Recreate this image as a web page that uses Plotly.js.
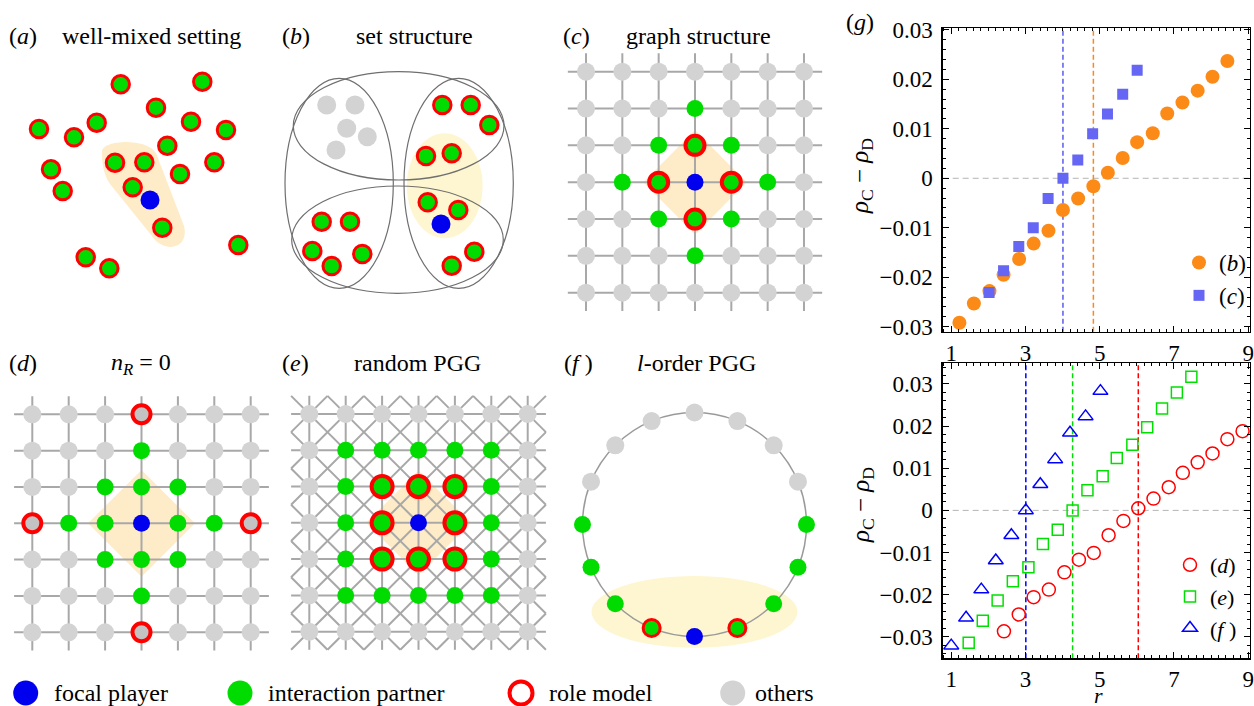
<!DOCTYPE html>
<html><head><meta charset="utf-8">
<script src="https://cdn.plot.ly/plotly-3.0.1.min.js"></script>
<style>html,body{margin:0;padding:0;background:#fff}#chart{width:1254px;height:706px}</style>
</head><body><div id="chart"></div>
<script>
// ================= DATA =================
// panel (g) top: set structure (b) and graph structure (c)
const rB = [1.22,1.61,2.03,2.41,2.83,3.22,3.62,4.01,4.42,4.83,5.22,5.62,6.01,6.43,6.82,7.23,7.64,8.04,8.44];
const dB = [-0.0292,-0.0253,-0.0228,-0.0195,-0.0163,-0.0132,-0.0106,-0.0064,-0.0041,-0.0016,0.0011,0.0041,0.0073,0.0091,0.0131,0.0153,0.0177,0.0205,0.0237];
const rC = [2.02,2.41,2.82,3.21,3.61,4.01,4.41,4.81,5.21,5.62,6.01];
const dC = [-0.0231,-0.0187,-0.0138,-0.0100,-0.0041,0.0000,0.0037,0.0090,0.0130,0.0170,0.0218];
// panel (g) bottom: n_R=0 (d), random PGG (e), l-order PGG (f)
const rD = [2.42,2.82,3.22,3.63,4.05,4.44,4.84,5.24,5.64,6.04,6.45,6.86,7.24,7.64,8.04,8.44,8.85];
const dD = [-0.0287,-0.0247,-0.0206,-0.0188,-0.0147,-0.0117,-0.0101,-0.0059,-0.0025,0.0005,0.0028,0.0055,0.0089,0.0114,0.0135,0.0169,0.0188];
const rE = [1.47,1.85,2.25,2.66,3.08,3.47,3.87,4.27,4.67,5.08,5.46,5.88,6.28,6.68,7.08,7.47];
const dE = [-0.0314,-0.0262,-0.0214,-0.0168,-0.0135,-0.0080,-0.0046,0.0000,0.0048,0.0081,0.0124,0.0156,0.0197,0.0242,0.0280,0.0317];
const rF = [1.00,1.40,1.81,2.20,2.62,3.01,3.40,3.80,4.20,4.62,5.02];
const dF = [-0.0321,-0.0255,-0.0188,-0.0119,-0.0059,0.0000,0.0062,0.0121,0.0184,0.0223,0.0283];
// critical r (dashed lines)
const critB = 4.83, critC = 4.01, critD = 6.04, critE = 4.27, critF = 3.01;
// tick labels
const xTickVals = [1,3,5,7,9];
const xTickText = ['1','3','5','7','9'];
const yTickVals = [-0.03,-0.02,-0.01,0,0.01,0.02,0.03];
const yTickText = ['\u22120.03','\u22120.02','\u22120.01','0','0.01','0.02','0.03'];
const seriesNames = ['(<i>b</i>)','(<i>c</i>)','(<i>d</i>)','(<i>e</i>)','(<i>f</i> )'];

// panel (a) well-mixed: node positions
const aRoleX = [120.7,202.3,156,191,96.7,39,74,226,167.3,115,144.3,214.3,51,180,132.7,62.7,162.3,238.3,85.7,109.3];
const aRoleY = [84.3,81.7,107.7,121.7,122.7,129,137.3,130,145.7,162.7,162.3,162.3,169.3,174,187.3,191,227.7,245,257.3,268.3];
const aFocalX = [150], aFocalY = [200];
// panel (b) set structure
const bOtherX = [326.7,355,346.7,367.3,336];
const bOtherY = [105,105,128.3,136.7,150];
const bRoleX = [442.3,470.7,489.3,426,451.7,427.7,458.3,321.7,350,312.3,331.7,362.3,451.7,474.3];
const bRoleY = [105,105,125,156,153.3,202.3,210,221.7,221.7,251,266,254,265.7,251.7];
const bFocalX = [441], bFocalY = [224];
// lattices: O other, P partner, R partner+role model, X other+role model, F focal
const gridC = ["OOOOOOO","OOOPOOO","OOPRPOO","OPRFRPO","OOPRPOO","OOOPOOO","OOOOOOO"];
const gridD = ["OOOXOOO","OOOPOOO","OOPPPOO","XPPFPPX","OOPPPOO","OOOPOOO","OOOXOOO"];
const gridE = ["OOOOOOO","OPPPPPO","OPRRRPO","OPRFRPO","OPRRRPO","OPPPPPO","OOOOOOO"];
// ring (f): 16 nodes starting at bottom, counter-clockwise
const ringRoles = "FRPPPOOOOOOOPPPR";
// figure legend
const legendLabels = ['focal player','interaction partner','role model','others'];
const legendRoles = ['F','P','R','O'];

// ================= STYLE / LAYOUT =================
const W = 1254, H = 706;
const FONT = 'Liberation Serif, Times New Roman, serif';
const COL = {green:'#00dc00', red:'#ff0000', blue:'#0000ee', gray:'#d3d3d3', ringGray:'#c3c3c3',
  line:'#a8a8a8', peach:'rgb(254,236,201)', cream:'rgb(254,246,208)'};

const traces = [];
const layout = {width:W, height:H, margin:{l:0,r:0,t:0,b:0}, paper_bgcolor:'#fff', plot_bgcolor:'rgba(0,0,0,0)',
  showlegend:true, shapes:[], annotations:[], font:{family:FONT, color:'#000'}};

function addAxes(id, pxL, pxR, pxT, pxB, xr, yr) {
  const n = id === 1 ? '' : String(id);
  layout['xaxis'+n] = {domain:[pxL/W, pxR/W], range:xr, visible:false, fixedrange:true, anchor:'y'+n};
  layout['yaxis'+n] = {domain:[1-pxB/H, 1-pxT/H], range:yr, visible:false, fixedrange:true, anchor:'x'+n};
  return {x:'x'+n, y:'y'+n};
}
function styleFor(role, s) {
  if (role === 'F') return {size:s.F, color:COL.blue, line:{width:0}};
  if (role === 'P') return {size:s.P, color:COL.green, line:{width:0}};
  if (role === 'R') return {size:s.R, color:COL.green, line:{width:s.RL, color:COL.red}};
  if (role === 'X') return {size:s.X, color:COL.ringGray, line:{width:s.RL, color:COL.red}};
  return {size:s.O, color:COL.gray, line:{width:0}};
}
function nodeTrace(ax, xs, ys, marker) {
  traces.push({type:'scatter', mode:'markers', x:xs, y:ys, xaxis:ax.x, yaxis:ax.y, showlegend:false,
    hoverinfo:'skip', cliponaxis:false, marker:marker});
}
function lattice(ax, rows, s, diag) {
  const n = rows.length, lx = [], ly = [];
  for (let i = 1; i <= n; i++) {
    lx.push(0.5, n+0.5, null); ly.push(i, i, null);
    lx.push(i, i, null); ly.push(0.5, n+0.5, null);
  }
  if (diag) {
    for (let k = -(n-1); k <= n-1; k++) {
      const xa = Math.max(0.5, 0.5-k), xb = Math.min(n+0.5, n+0.5-k);
      lx.push(xa, xb, null); ly.push(xa+k, xb+k, null);
    }
    for (let sm = 2; sm <= 2*n; sm++) {
      const xa = Math.max(0.5, sm-(n+0.5)), xb = Math.min(n+0.5, sm-0.5);
      lx.push(xa, xb, null); ly.push(sm-xa, sm-xb, null);
    }
  }
  traces.push({type:'scatter', mode:'lines', x:lx, y:ly, xaxis:ax.x, yaxis:ax.y, showlegend:false,
    hoverinfo:'skip', line:{color:COL.line, width:2}});
  const groups = {};
  rows.forEach((row, r) => row.split('').forEach((ch, c) => {
    groups[ch] = groups[ch] || {x:[], y:[]};
    groups[ch].x.push(c+1); groups[ch].y.push(r+1);
  }));
  ['O','X','P','R','F'].forEach(k => { if (groups[k]) nodeTrace(ax, groups[k].x, groups[k].y, styleFor(k, s)); });
}
function latticeAxes(id, x0, sx, y0, sy) {
  return addAxes(id, x0-0.75*sx, x0+6.75*sx, y0-0.75*sy, y0+6.75*sy, [0.25,7.75], [7.75,0.25]);
}
function diamond(ax, cx, cy, h, color) {
  layout.shapes.push({type:'path', xref:ax.x, yref:ax.y, layer:'below', fillcolor:color, line:{width:0},
    path:`M ${cx},${cy-h} L ${cx+h},${cy} L ${cx},${cy+h} L ${cx-h},${cy} Z`});
}

// ---- panel (a)
const axA = addAxes(1, 0, 280, 50, 300, [0,280], [300,50]);
layout.shapes.push({type:'path', xref:axA.x, yref:axA.y, layer:'below', fillcolor:COL.peach, line:{width:0},
  path:'M 102,152 C 101,140 146,137 156,153 L 184,226 C 189,246 170,253 156,241 L 110,184 C 103,174 102,162 102,152 Z'});
nodeTrace(axA, aRoleX, aRoleY, styleFor('R', {R:17.5, RL:3}));
nodeTrace(axA, aFocalX, aFocalY, styleFor('F', {F:19}));

// ---- panel (b)
const axB = addAxes(2, 280, 560, 50, 305, [280,560], [305,50]);
layout.shapes.push({type:'circle', xref:axB.x, yref:axB.y, layer:'below', fillcolor:COL.cream, line:{width:0},
  x0:406.7, x1:482.7, y0:133.3, y1:238.3});
[[285,393.3,78.3,288.3],[404,513.3,78.3,288.3],[293.3,504,71.7,180],[291.7,503.3,186,293.3]].forEach(e => {
  layout.shapes.push({type:'circle', xref:axB.x, yref:axB.y, layer:'below', line:{width:1.2, color:'#6f6f6f'},
    x0:e[0], x1:e[1], y0:e[2], y1:e[3]});
});
nodeTrace(axB, bOtherX, bOtherY, styleFor('O', {O:19}));
nodeTrace(axB, bRoleX, bRoleY, styleFor('R', {R:17.5, RL:3}));
nodeTrace(axB, bFocalX, bFocalY, styleFor('F', {F:19}));

// ---- panel (c)
const axC = latticeAxes(3, 586, 36.33, 71.7, 36.83);
diamond(axC, 4, 4, 1.42, COL.peach);
lattice(axC, gridC, {O:18, P:17, R:19, RL:4, F:17}, false);

// ---- panel (d)
const axD = latticeAxes(4, 32.3, 36.4, 414.3, 36.33);
diamond(axD, 4, 4, 1.47, COL.peach);
lattice(axD, gridD, {O:18, P:17, X:18, RL:4, F:17}, false);

// ---- panel (e)
const axE = latticeAxes(5, 309.3, 36.4, 414, 36.28);
diamond(axE, 4, 4, 1.44, COL.peach);
lattice(axE, gridE, {O:18, P:17, R:21, RL:4, F:17}, true);

// ---- panel (f)
const fcx = 694.5, fcy = 524.5, fR = 112;
const axF = addAxes(6, fcx-1.3*fR, fcx+1.3*fR, fcy-1.3*fR, fcy+1.3*fR, [-1.3,1.3], [-1.3,1.3]);
layout.shapes.push({type:'circle', xref:axF.x, yref:axF.y, layer:'below', fillcolor:COL.cream, line:{width:0},
  x0:-0.92, x1:0.92, y0:-1.10, y1:-0.46});
layout.shapes.push({type:'circle', xref:axF.x, yref:axF.y, layer:'below', line:{width:1.5, color:'#9a9a9a'},
  x0:-1, x1:1, y0:-1, y1:1});
{
  const g = {};
  ringRoles.split('').forEach((ch, k) => {
    const th = (-90 + 360*k/ringRoles.length) * Math.PI/180;
    g[ch] = g[ch] || {x:[], y:[]};
    g[ch].x.push(Math.cos(th)); g[ch].y.push(Math.sin(th));
  });
  const s = {O:18, P:17, R:17, RL:3, F:17};
  ['O','P','R','F'].forEach(k => { if (g[k]) nodeTrace(axF, g[k].x, g[k].y, styleFor(k, s)); });
}

// ---- figure legend row
const axL = addAxes(9, 0, 840, 670, 706, [0,840], [706,670]);
const legMarkX = [25.7, 240, 521, 732.7];
const legTextX = [52, 266, 547, 752.5];
const legStyle = {F:{size:25, color:COL.blue, line:{width:0}}, P:{size:25, color:COL.green, line:{width:0}},
  R:{size:23, color:'rgba(0,0,0,0)', line:{width:4, color:COL.red}}, O:{size:25, color:COL.gray, line:{width:0}}};
legendRoles.forEach((r, i) => {
  nodeTrace(axL, [legMarkX[i]], [693], legStyle[r]);
  layout.annotations.push({xref:axL.x, yref:axL.y, x:legTextX[i], y:693, xanchor:'left', yanchor:'middle',
    text:legendLabels[i], showarrow:false, font:{family:FONT, size:24, color:'#000'}});
});

// ---- panel titles
[['(<i>a</i>)',23,36],['well-mixed setting',151.5,36],['(<i>b</i>)',296.3,36],['set structure',414.7,36],
 ['(<i>c</i>)',576,36],['graph structure',698.7,36],['(<i>d</i>)',22.7,363],['<i>n</i><sub><i>R</i></sub> = 0',140.8,364],
 ['(<i>e</i>)',295.8,363],['random PGG',417.5,363],['(<i>f</i> )',578.7,363],['<i>l</i>-order PGG',696.7,363],
 ['(<i>g</i>)',860,22]].forEach(t => {
  layout.annotations.push({xref:'paper', yref:'paper', x:t[1]/W, y:1-t[2]/H, xanchor:'center', yanchor:'middle',
    text:t[0], showarrow:false, font:{family:FONT, size:24, color:'#000'}});
});

// ---- panel (g) axes
const GL = 942.7, GR = 1250;
function gX(anchor) {
  return {domain:[GL/W, GR/W], range:[0.77,9.05], anchor:anchor, showline:true, mirror:'ticks', linecolor:'#000',
    linewidth:1.3, ticks:'inside', ticklen:6, tickwidth:1, tickcolor:'#000', tickmode:'array', tickvals:xTickVals,
    ticktext:xTickText, tickfont:{family:FONT, size:23, color:'#000'},
    minor:{tickmode:'linear', tick0:1, dtick:0.2, ticks:'inside', ticklen:3, tickwidth:1, tickcolor:'#000'},
    showgrid:false, zeroline:false, fixedrange:true};
}
function gY(anchor, pxT, pxB, yr) {
  return {domain:[1-pxB/H, 1-pxT/H], range:yr, anchor:anchor, showline:true, mirror:'ticks', linecolor:'#000',
    linewidth:1.3, ticks:'inside', ticklen:6, tickwidth:1, tickcolor:'#000', tickmode:'array', tickvals:yTickVals,
    ticktext:yTickText, tickfont:{family:FONT, size:23, color:'#000'}, ticklabelstandoff:4,
    minor:{tickmode:'linear', tick0:0, dtick:0.002, ticks:'inside', ticklen:3, tickwidth:1, tickcolor:'#000'},
    showgrid:false, zeroline:false, fixedrange:true};
}
layout.xaxis7 = gX('y7'); layout.yaxis7 = gY('x7', 28.3, 331.7, [-0.031, 0.0303]);
layout.xaxis8 = gX('y8'); layout.yaxis8 = gY('x8', 363.3, 658.3, [-0.0351, 0.0349]);

function hZero(n) {
  layout.shapes.push({type:'line', xref:'x'+n+' domain', yref:'y'+n, x0:0, x1:1, y0:0, y1:0, layer:'below',
    line:{color:'#b4b4b4', width:1, dash:'6px,4px'}});
}
function vCrit(n, xv, color) {
  layout.shapes.push({type:'line', xref:'x'+n, yref:'y'+n+' domain', x0:xv, x1:xv, y0:0, y1:1, layer:'below',
    line:{color:color, width:1.5, dash:'5px,3px'}});
}
hZero(7); hZero(8);
vCrit(7, critC, '#5a5af0'); vCrit(7, critB, '#fb8a17');
vCrit(8, critF, '#0000ff'); vCrit(8, critE, '#00e000'); vCrit(8, critD, '#ff0000');

traces.push({type:'scatter', mode:'markers', name:seriesNames[0], x:rB, y:dB, xaxis:'x7', yaxis:'y7', legend:'legend',
  marker:{symbol:'circle', size:14, color:'#fb8a17'}});
traces.push({type:'scatter', mode:'markers', name:seriesNames[1], x:rC, y:dC, xaxis:'x7', yaxis:'y7', legend:'legend',
  marker:{symbol:'square', size:11, color:'#6666f4'}});
traces.push({type:'scatter', mode:'markers', name:seriesNames[2], x:rD, y:dD, xaxis:'x8', yaxis:'y8', legend:'legend2',
  marker:{symbol:'circle-open', size:13, color:'#ff0000', line:{width:1.5}}});
traces.push({type:'scatter', mode:'markers', name:seriesNames[3], x:rE, y:dE, xaxis:'x8', yaxis:'y8', legend:'legend2',
  marker:{symbol:'square-open', size:11, color:'#00e000', line:{width:1.5}}});
traces.push({type:'scatter', mode:'markers', name:seriesNames[4], x:rF, y:dF, xaxis:'x8', yaxis:'y8', legend:'legend2',
  marker:{symbol:'triangle-up-open', size:13, color:'#0000ff', line:{width:1.5}}});

const legFont = {family:FONT, size:23, color:'#000'};
layout.legend = {x:1179/W, y:1-241/H, xanchor:'left', yanchor:'top', bgcolor:'rgba(0,0,0,0)', font:legFont, traceorder:'normal'};
layout.legend2 = {x:1170/W, y:1-544/H, xanchor:'left', yanchor:'top', bgcolor:'rgba(0,0,0,0)', font:{family:FONT, size:22, color:'#000'}, traceorder:'normal'};

// axis titles
const yTitle = '<i>\u03c1</i><sub>C</sub> \u2212 <i>\u03c1</i><sub>D</sub>';
layout.annotations.push({xref:'paper', yref:'paper', x:862/W, y:1-176/H, textangle:-90, text:yTitle, showarrow:false,
  xanchor:'center', yanchor:'middle', font:{family:FONT, size:25, color:'#000'}});
layout.annotations.push({xref:'paper', yref:'paper', x:862/W, y:1-505/H, textangle:-90, text:yTitle, showarrow:false,
  xanchor:'center', yanchor:'middle', font:{family:FONT, size:25, color:'#000'}});
layout.annotations.push({xref:'paper', yref:'paper', x:1098/W, y:0, text:'<i>r</i>', showarrow:false,
  xanchor:'center', yanchor:'bottom', yshift:-4, font:{family:FONT, size:22, color:'#000'}});

Plotly.newPlot('chart', traces, layout, {staticPlot:true, displayModeBar:false});
</script>
</body></html>
